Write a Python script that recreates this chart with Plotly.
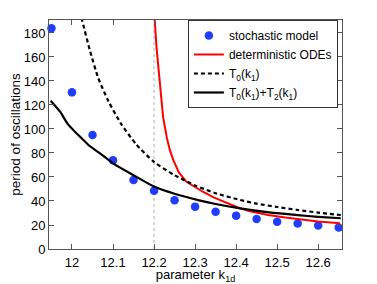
import plotly.graph_objects as go

# ---- data ----
stoch_k = [11.95, 12.00, 12.05, 12.10, 12.15, 12.20, 12.25, 12.30, 12.35, 12.40, 12.45, 12.50, 12.55, 12.60, 12.65]
stoch_T = [184, 130.5, 95, 74, 57.5, 48.6, 40.7, 35.3, 31.1, 27.8, 25, 22.8, 21.2, 19.6, 18]

ode_k = [12.201, 12.202, 12.206, 12.21, 12.214, 12.218, 12.222, 12.231, 12.238, 12.247, 12.26, 12.279, 12.3, 12.32, 12.345, 12.369, 12.409, 12.434, 12.478, 12.52, 12.55, 12.6, 12.653]
ode_T = [200, 189, 168, 153, 136, 123, 110, 93, 83, 74, 64, 56, 51.5, 47.5, 43, 39.4, 34, 31.5, 28.3, 26.2, 24.8, 23, 21.4]

t0_k = [12.018, 12.025, 12.044, 12.064, 12.089, 12.121, 12.157, 12.2, 12.25, 12.3, 12.35, 12.41, 12.45, 12.5, 12.55, 12.6, 12.655]
t0_T = [198, 190, 165, 142.5, 123, 103.6, 87, 72.5, 61.5, 53, 46.5, 40.8, 37.8, 35, 32.5, 30.3, 28.3]

t02_k = [11.948, 11.971, 11.99, 12.011, 12.028, 12.044, 12.068, 12.1, 12.149, 12.2, 12.25, 12.31, 12.35, 12.41, 12.48, 12.55, 12.6, 12.655]
t02_T = [123.6, 114.4, 104, 96.4, 90.8, 85.6, 79.7, 71.4, 61.7, 52, 46, 40.5, 37.5, 33.8, 30.5, 28.2, 26.8, 25.6]

x_tickvals = [12.0, 12.1, 12.2, 12.3, 12.4, 12.5, 12.6]
x_ticktext = ["12", "12.1", "12.2", "12.3", "12.4", "12.5", "12.6"]
y_tickvals = [0, 20, 40, 60, 80, 100, 120, 140, 160, 180]
ref_k = 12.2

FONT = "Liberation Sans, Arial, Helvetica, sans-serif"
AXC = "#555555"

fig = go.Figure()
fig.add_vline(x=ref_k, line=dict(color="#b0b0b0", width=1, dash="dot"), layer="below")

fig.add_trace(go.Scatter(x=stoch_k, y=stoch_T, mode="markers", name="stochastic model",
                         marker=dict(color="#1f3cff", size=8.5, line=dict(width=0)), cliponaxis=False))
fig.add_trace(go.Scatter(x=ode_k, y=ode_T, mode="lines", name="deterministic ODEs",
                         line=dict(color="#ff0000", width=2)))
fig.add_trace(go.Scatter(x=t0_k, y=t0_T, mode="lines", name="T<sub>0</sub>(k<sub>1</sub>)",
                         line=dict(color="black", width=2.2, dash="4px,3px", shape="spline", smoothing=0.6)))
fig.add_trace(go.Scatter(x=t02_k, y=t02_T, mode="lines", name="T<sub>0</sub>(k<sub>1</sub>)+T<sub>2</sub>(k<sub>1</sub>)",
                         line=dict(color="black", width=2.2, shape="spline", smoothing=0.6)))

# the page body has an 8px default margin, so the figure is offset by 8px
fig.update_layout(
    width=369, height=276,
    margin=dict(l=41, r=35, t=12, b=35),
    paper_bgcolor="white", plot_bgcolor="white",
    font=dict(family=FONT, size=13, color="black"),
    showlegend=True,
    legend=dict(x=0.986, y=1.0, xanchor="right", yanchor="top",
                bgcolor="white", bordercolor="#333333", borderwidth=1,
                font=dict(size=12), tracegroupgap=0, itemwidth=30),
    xaxis=dict(range=[11.944, 12.658], tickvals=x_tickvals, ticktext=x_ticktext,
               ticks="inside", ticklen=5, tickcolor=AXC, showline=True, linecolor=AXC,
               linewidth=1, mirror="ticks", showgrid=False, zeroline=False,
               tickfont=dict(size=13), ticklabelstandoff=1, automargin=False,
               title=dict(text="parameter k<sub>1d</sub>", font=dict(size=13), standoff=2)),
    yaxis=dict(range=[0, 190.8], tickvals=y_tickvals,
               ticks="inside", ticklen=5, tickcolor=AXC, showline=True, linecolor=AXC,
               linewidth=1, mirror="ticks", showgrid=False, zeroline=False,
               tickfont=dict(size=13), automargin=False,
               title=dict(text="period of oscillations", font=dict(size=13.5), standoff=0)),
)

fig.write_html("out.html")
